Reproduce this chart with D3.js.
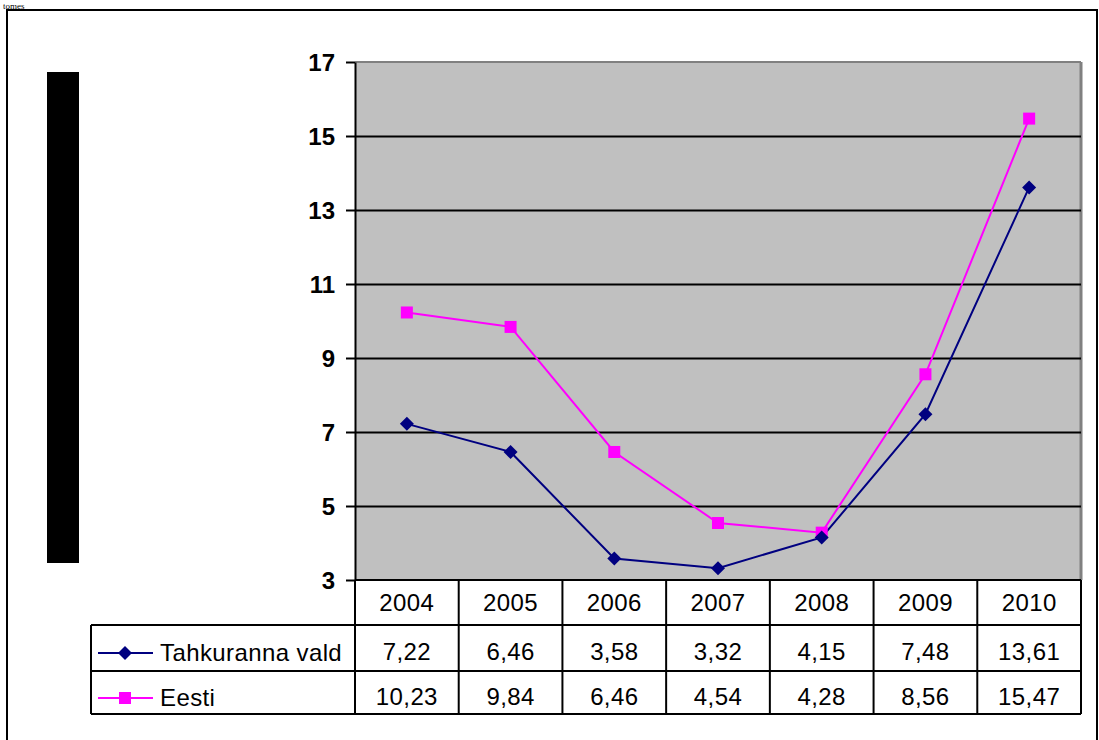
<!DOCTYPE html>
<html>
<head>
<meta charset="utf-8">
<script src="https://cdn.jsdelivr.net/npm/d3@7"></script>
<style>
  body { margin: 0; background: #fff; }
  svg { display: block; }
  text { font-family: Arial, "Liberation Sans", sans-serif; }
</style>
</head>
<body>
<svg id="chart" width="1099" height="740"></svg>
<script>
const years = ["2004", "2005", "2006", "2007", "2008", "2009", "2010"];
const tahkuranna = [7.22, 6.46, 3.58, 3.32, 4.15, 7.48, 13.61];
const eesti = [10.23, 9.84, 6.46, 4.54, 4.28, 8.56, 15.47];
const tahkurannaLabels = ["7,22", "6,46", "3,58", "3,32", "4,15", "7,48", "13,61"];
const eestiLabels = ["10,23", "9,84", "6,46", "4,54", "4,28", "8,56", "15,47"];
const seriesNames = ["Tahkuranna vald", "Eesti"];
const yTicks = [3, 5, 7, 9, 11, 13, 15, 17];
const topText = "tomes";

const svg = d3.select("#chart");

// page text at the top
svg.append("text").attr("x", 3).attr("y", 9)
  .style("font-family", "'Liberation Serif', 'Times New Roman', serif")
  .style("font-size", "9px").text(topText);

// outer frame
svg.append("rect").attr("x", 7).attr("y", 10).attr("width", 1090).attr("height", 740)
  .attr("fill", "none").attr("stroke", "#000").attr("stroke-width", 2);

// redaction block
svg.append("rect").attr("x", 47).attr("y", 72).attr("width", 32).attr("height", 491).attr("fill", "#000");

const L = 355, R = 1081, T = 62, B = 580;
const x = d3.scaleBand().domain(years).range([L, R]).padding(0);
const y = d3.scaleLinear().domain([3, 17]).range([B, T]);

// plot area
svg.append("rect").attr("x", L).attr("y", T).attr("width", R - L).attr("height", B - T)
  .attr("fill", "#C0C0C0");
svg.append("line").attr("x1", L).attr("x2", R).attr("y1", T).attr("y2", T)
  .attr("stroke", "#808080").attr("stroke-width", 2);
svg.append("line").attr("x1", R).attr("x2", R).attr("y1", T).attr("y2", B)
  .attr("stroke", "#808080").attr("stroke-width", 3);

// gridlines
const grid = svg.append("g").attr("transform", `translate(${L},0)`)
  .call(d3.axisLeft(y).tickValues(yTicks.filter(v => v > 3 && v < 17)).tickSize(-(R - L)).tickFormat(""));
grid.select(".domain").remove();
grid.selectAll("line").attr("stroke", "#000").attr("stroke-width", 2);

// y axis
const yAxis = svg.append("g").attr("transform", `translate(${L},0)`)
  .call(d3.axisLeft(y).tickValues(yTicks).tickSize(9).tickPadding(11).tickSizeOuter(0));
yAxis.select(".domain").attr("stroke", "#000").attr("stroke-width", 2);
yAxis.selectAll(".tick line").attr("stroke", "#000").attr("stroke-width", 2);
yAxis.selectAll(".tick text").style("font-size", "24px").style("font-weight", "bold")
  .attr("fill", "#000").attr("dy", "0.36em");

// series
const cx = d => x(d) + x.bandwidth() / 2;
const lineGen = vals => d3.line().x((v, i) => cx(years[i])).y(v => y(v))(vals);

svg.append("path").attr("d", lineGen(eesti)).attr("fill", "none")
  .attr("stroke", "#FF00FF").attr("stroke-width", 2);
svg.append("path").attr("d", lineGen(tahkuranna)).attr("fill", "none")
  .attr("stroke", "#000080").attr("stroke-width", 2);

function drawDiamond(g, px, py) {
  g.append("path").attr("d", "M0,-7L7,0L0,7L-7,0Z")
    .attr("transform", `translate(${px},${py})`).attr("fill", "#000080");
}
function drawSquare(g, px, py) {
  g.append("rect").attr("x", px - 6).attr("y", py - 6).attr("width", 12).attr("height", 12)
    .attr("fill", "#FF00FF");
}
const marks = svg.append("g");
eesti.forEach((v, i) => drawSquare(marks, cx(years[i]), y(v)));
tahkuranna.forEach((v, i) => drawDiamond(marks, cx(years[i]), y(v)));

// data table
const rowTop = [580, 625, 671];
const rowBottom = 714;
const tableLeft = 91;
const tg = svg.append("g");
const ln = (x1, y1, x2, y2) => tg.append("line").attr("x1", x1).attr("y1", y1).attr("x2", x2).attr("y2", y2)
  .attr("stroke", "#000").attr("stroke-width", 2);

ln(L, rowTop[0], R, rowTop[0]);
ln(tableLeft, rowTop[1], R, rowTop[1]);
ln(tableLeft, rowTop[2], R, rowTop[2]);
ln(tableLeft, rowBottom, R, rowBottom);
ln(tableLeft, rowTop[1], tableLeft, rowBottom);
years.forEach(yr => ln(x(yr), rowTop[0], x(yr), rowBottom));
ln(R, rowTop[0], R, rowBottom);

const cellText = (txt, px, py) => tg.append("text").attr("x", px).attr("y", py)
  .attr("text-anchor", "middle").style("font-size", "24px").style("letter-spacing", "0.4px").text(txt);

years.forEach((yr, i) => {
  cellText(yr, cx(yr), 611);
  cellText(tahkurannaLabels[i], cx(yr), 660);
  cellText(eestiLabels[i], cx(yr), 705);
});

// legend keys
const keyY = [653, 698];
tg.append("line").attr("x1", 98).attr("x2", 153).attr("y1", keyY[0]).attr("y2", keyY[0])
  .attr("stroke", "#000080").attr("stroke-width", 2);
drawDiamond(tg, 125, keyY[0]);
tg.append("line").attr("x1", 98).attr("x2", 153).attr("y1", keyY[1]).attr("y2", keyY[1])
  .attr("stroke", "#FF00FF").attr("stroke-width", 2);
drawSquare(tg, 125, keyY[1]);
seriesNames.forEach((n, i) => {
  tg.append("text").attr("x", 160).attr("y", keyY[i] + 8)
    .style("font-size", "24px").style("letter-spacing", "0.4px").text(n);
});
</script>
</body>
</html>
